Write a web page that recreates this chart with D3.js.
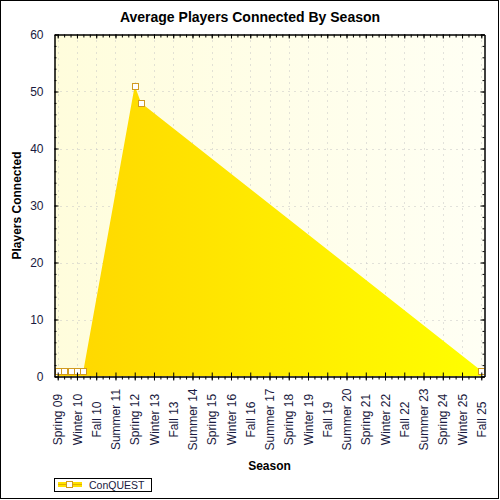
<!DOCTYPE html>
<html lang="en">
<head>
<meta charset="utf-8">
<title>Average Players Connected By Season</title>
<script src="https://d3js.org/d3.v7.js"></script>
<style>
  body { margin: 0; background: #fff; }
  text { font-family: "Liberation Sans", Arial, sans-serif; }
</style>
</head>
<body>
<script>

// all seasons on the x axis
var seasons = [
  "Spring 09", "Summer 09", "Fall 09", "Winter 10", "Spring 10", "Summer 10", "Fall 10", "Winter 11",
  "Spring 11", "Summer 11", "Fall 11", "Winter 12", "Spring 12", "Summer 12", "Fall 12", "Winter 13",
  "Spring 13", "Summer 13", "Fall 13", "Winter 14", "Spring 14", "Summer 14", "Fall 14", "Winter 15",
  "Spring 15", "Summer 15", "Fall 15", "Winter 16", "Spring 16", "Summer 16", "Fall 16", "Winter 17",
  "Spring 17", "Summer 17", "Fall 17", "Winter 18", "Spring 18", "Summer 18", "Fall 18", "Winter 19",
  "Spring 19", "Summer 19", "Fall 19", "Winter 20", "Spring 20", "Summer 20", "Fall 20", "Winter 21",
  "Spring 21", "Summer 21", "Fall 21", "Winter 22", "Spring 22", "Summer 22", "Fall 22", "Winter 23",
  "Spring 23", "Summer 23", "Fall 23", "Winter 24", "Spring 24", "Summer 24", "Fall 24", "Winter 25",
  "Spring 25", "Summer 25", "Fall 25"
];

// labelled seasons (every third one)
var labelSeasons = [
  "Spring 09", "Winter 10", "Fall 10", "Summer 11", "Spring 12", "Winter 13", "Fall 13", "Summer 14",
  "Spring 15", "Winter 16", "Fall 16", "Summer 17", "Spring 18", "Winter 19", "Fall 19", "Summer 20",
  "Spring 21", "Winter 22", "Fall 22", "Summer 23", "Spring 24", "Winter 25", "Fall 25"
];

// seasons that have a value, and the values
var pointSeasons = ["Spring 09", "Summer 09", "Fall 09", "Winter 10", "Spring 10", "Spring 12", "Summer 12", "Fall 25"];
var pointValues  = [1, 1, 1, 1, 1, 51, 48, 1];

var yMajor = [0, 10, 20, 30, 40, 50, 60];
var yMinor = d3.range(0, 61, 2);

var seriesName = "ConQUEST";

var w = 500, h = 500;
var plot = {left: 54.5, right: 484.5, top: 34.5, bottom: 376.5};

var points = pointSeasons.map((s, i) => ({season: s, value: pointValues[i]}));

var x = d3.scalePoint()
  .domain(seasons)
  .range([plot.left, plot.right])
  .padding(0.5);

var y = d3.scaleLinear()
  .domain([0, 60])
  .range([plot.bottom, plot.top]);

var svg = d3.select("body").append("svg")
  .attr("width", w)
  .attr("height", h);

var defs = svg.append("defs");

var bg = defs.append("linearGradient")
  .attr("id", "bg")
  .attr("gradientUnits", "userSpaceOnUse")
  .attr("x1", plot.left).attr("x2", plot.right).attr("y1", 0).attr("y2", 0);
bg.append("stop").attr("offset", 0).attr("stop-color", "#fffddc");
bg.append("stop").attr("offset", 1).attr("stop-color", "#fffff4");

var fillGrad = defs.append("linearGradient")
  .attr("id", "fillGrad")
  .attr("gradientUnits", "userSpaceOnUse")
  .attr("x1", plot.left).attr("x2", plot.right).attr("y1", 0).attr("y2", 0);
fillGrad.append("stop").attr("offset", 0).attr("stop-color", "#ffd600");
fillGrad.append("stop").attr("offset", 1).attr("stop-color", "#ffff00");

defs.append("clipPath").attr("id", "clip")
  .append("rect")
  .attr("x", plot.left).attr("y", plot.top)
  .attr("width", plot.right - plot.left).attr("height", plot.bottom - plot.top);

// outer border
svg.append("rect")
  .attr("x", 0.5).attr("y", 0.5)
  .attr("width", 498).attr("height", 498)
  .attr("fill", "#fff")
  .attr("stroke", "#000");

// plot background
svg.append("rect")
  .attr("x", plot.left).attr("y", plot.top)
  .attr("width", plot.right - plot.left).attr("height", plot.bottom - plot.top)
  .attr("fill", "url(#bg)");

// grid
var grid = svg.append("g")
  .attr("stroke", "#c4c4c4")
  .attr("stroke-dasharray", "1,5");

grid.selectAll(".vg")
  .data(labelSeasons)
  .enter().append("line")
  .attr("x1", d => Math.round(x(d)) + 0.5).attr("x2", d => Math.round(x(d)) + 0.5)
  .attr("y1", plot.top).attr("y2", plot.bottom);

grid.selectAll(".hg")
  .data(yMajor.slice(1, -1))
  .enter().append("line")
  .attr("x1", plot.left).attr("x2", plot.right)
  .attr("y1", d => Math.round(y(d)) + 0.5).attr("y2", d => Math.round(y(d)) + 0.5);

// area
var area = d3.area()
  .x(d => x(d.season))
  .y0(y(0))
  .y1(d => y(d.value));

svg.append("path")
  .datum(points)
  .attr("clip-path", "url(#clip)")
  .attr("fill", "url(#fillGrad)")
  .attr("d", area);

// markers
svg.append("g")
  .attr("clip-path", "url(#clip)")
  .selectAll("rect")
  .data(points)
  .enter().append("rect")
  .attr("x", d => Math.round(x(d.season)) - 2.5)
  .attr("y", d => Math.round(y(d.value)) - 2.5)
  .attr("width", 6).attr("height", 6)
  .attr("fill", "#fff")
  .attr("stroke", "#d09a20");

// axes
function styleTicks(g) {
  g.select(".domain").attr("stroke", "#000");
  g.selectAll("line").attr("stroke", "#000");
}

// bottom minor
svg.append("g")
  .attr("transform", `translate(0,${plot.bottom})`)
  .call(d3.axisBottom(x).tickValues(seasons).tickSize(3).tickSizeOuter(0).tickFormat(""))
  .call(styleTicks);

// bottom major
var xAxis = svg.append("g")
  .attr("transform", `translate(0,${plot.bottom})`)
  .call(d3.axisBottom(x).tickValues(labelSeasons).tickSize(4).tickSizeOuter(0))
  .call(styleTicks);
xAxis.selectAll(".tick line").attr("y1", -4);
xAxis.selectAll(".tick text")
  .attr("transform", "rotate(-90)")
  .attr("text-anchor", "middle")
  .attr("x", -43)
  .attr("y", 0)
  .attr("dy", "0.35em")
  .attr("font-size", 12)
  .attr("font-family", "Liberation Sans, Arial, sans-serif")
  .attr("fill", "#1a1a40");

// top ticks
svg.append("g")
  .attr("transform", `translate(0,${plot.top})`)
  .call(d3.axisTop(x).tickValues(seasons).tickSize(-3).tickSizeOuter(0).tickFormat(""))
  .call(styleTicks);
svg.append("g")
  .attr("transform", `translate(0,${plot.top})`)
  .call(d3.axisTop(x).tickValues(labelSeasons).tickSize(-4).tickSizeOuter(0).tickFormat(""))
  .call(styleTicks);

// left minor
var yMinorAxis = svg.append("g")
  .attr("transform", `translate(${plot.left},0)`)
  .call(d3.axisLeft(y).tickValues(yMinor).tickSize(2).tickSizeOuter(0).tickFormat(""))
  .call(styleTicks);
yMinorAxis.selectAll(".tick line").attr("x2", 2);

// left major
var yAxis = svg.append("g")
  .attr("transform", `translate(${plot.left},0)`)
  .call(d3.axisLeft(y).tickValues(yMajor).tickSize(5).tickSizeOuter(0))
  .call(styleTicks);
yAxis.selectAll(".tick line").attr("x2", 4);
yAxis.selectAll(".tick text")
  .attr("x", -11)
  .attr("font-size", 12)
  .attr("font-family", "Liberation Sans, Arial, sans-serif")
  .attr("fill", "#1a1a40");

// right ticks
svg.append("g")
  .attr("transform", `translate(${plot.right},0)`)
  .call(d3.axisRight(y).tickValues(yMinor).tickSize(-2).tickSizeOuter(0).tickFormat(""))
  .call(styleTicks);
svg.append("g")
  .attr("transform", `translate(${plot.right},0)`)
  .call(d3.axisRight(y).tickValues(yMajor).tickSize(-4).tickSizeOuter(0).tickFormat(""))
  .call(styleTicks);

// titles
svg.append("text")
  .attr("x", 250).attr("y", 22)
  .attr("text-anchor", "middle")
  .attr("font-size", 14)
  .attr("font-weight", "bold")
  .text("Average Players Connected By Season");

svg.append("text")
  .attr("x", (plot.left + plot.right) / 2).attr("y", 470)
  .attr("text-anchor", "middle")
  .attr("font-size", 12)
  .attr("font-weight", "bold")
  .text("Season");

svg.append("text")
  .attr("transform", `translate(21,${(plot.top + plot.bottom) / 2}) rotate(-90)`)
  .attr("text-anchor", "middle")
  .attr("font-size", 12)
  .attr("font-weight", "bold")
  .text("Players Connected");

// legend
var legend = svg.append("g");
legend.append("rect")
  .attr("x", 54.5).attr("y", 478.5)
  .attr("width", 97).attr("height", 13)
  .attr("fill", "#fff")
  .attr("stroke", "#000");
legend.append("rect")
  .attr("x", 58).attr("y", 482)
  .attr("width", 24).attr("height", 5)
  .attr("fill", "#ffe000");
legend.append("line")
  .attr("x1", 58).attr("x2", 82)
  .attr("y1", 484.5).attr("y2", 484.5)
  .attr("stroke", "#e0b000");
legend.append("rect")
  .attr("x", 66.5).attr("y", 481.5)
  .attr("width", 6).attr("height", 6)
  .attr("fill", "#fff")
  .attr("stroke", "#d09a20");
legend.append("text")
  .attr("x", 89).attr("y", 489)
  .attr("font-size", 10.5)
  .attr("fill", "#1a1a40")
  .text(seriesName);

</script>
</body>
</html>
